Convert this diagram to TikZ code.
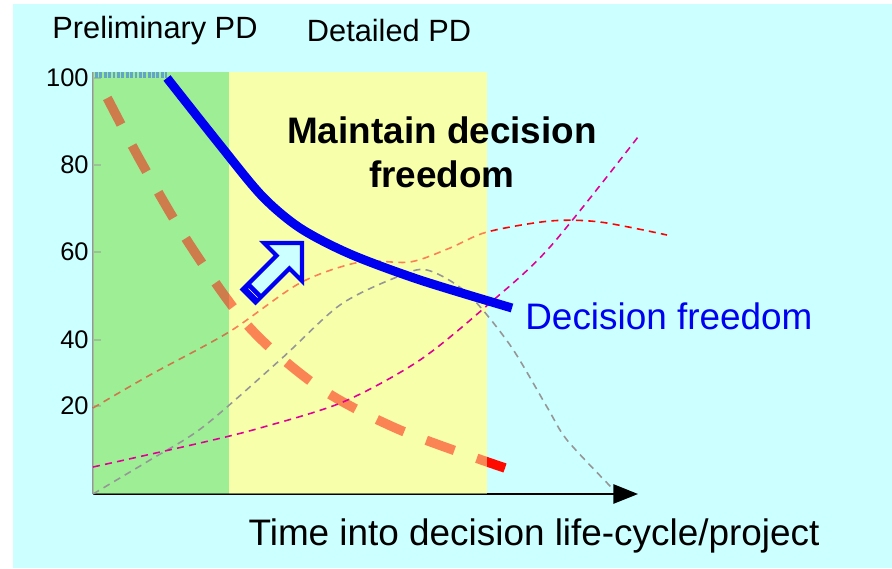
\documentclass[tikz,border=0pt]{standalone}
\usepackage{fontspec}
\setmainfont{Liberation Sans}
\usetikzlibrary{arrows.meta}
\definecolor{bgcyan}{RGB}{204,255,255}
\definecolor{prelgreen}{RGB}{158,238,150}
\definecolor{detyellow}{RGB}{248,255,170}
\definecolor{costred}{RGB}{255,10,0}
\definecolor{thingray}{RGB}{150,150,150}
\definecolor{thinmagenta}{RGB}{225,0,150}
\definecolor{freeblue}{RGB}{0,0,240}
\definecolor{flatblue}{RGB}{40,90,255}

\begin{document}
\begin{tikzpicture}[
    x=0.02cm, y=-0.02cm,
    regionstyle/.style={draw=none},
    thinstyle/.style={line width=0.9pt, dash pattern=on 4pt off 3pt},
    phaselabel/.style={font=\fontsize{17.5}{20}\selectfont, inner sep=0pt},
    ticklabel/.style={font=\fontsize{14.5}{16}\selectfont, anchor=east, inner sep=0pt},
    bigtext/.style={font=\fontsize{21}{25}\selectfont, inner sep=0pt}
]
    \useasboundingbox (0,0) rectangle (892,568);
    \fill[bgcyan] (13,4) rectangle (892,568);

    % project phases
    \fill[prelgreen, regionstyle] (93,72) rectangle (229,494);
    \fill[detyellow, regionstyle] (229,72) rectangle (487,494);

    % axes and ticks
    \coordinate (origin) at (93,494);
    \coordinate (xend) at (638,494);
    \draw[thingray, line width=0.6pt] (origin) -- (93,72);
    \draw[black, line width=0.9pt, -{Triangle[length=14pt,width=11pt]}] (origin) -- (xend);
    \foreach \ty/\tv in {78/100, 165/80, 252/60, 340/40, 406/20} {
        \draw[thingray, line width=0.6pt] (93,\ty) -- (101,\ty);
        \node[ticklabel] (tick\tv) at (89,\ty) {\tv};
    }

    % curves under the phase shading
    \draw[costred, line width=5.4pt, dash pattern=on 17pt off 13.5pt]
        plot[smooth] coordinates {(505,468) (400,430) (320,388) (250,328) (190,245) (140,160) (97,78)};
    \draw[red, thinstyle]
        plot[smooth] coordinates {(93,408) (150,375) (229,332) (300,283) (360,262) (410,262) (450,248) (487,232) (550,221) (600,222) (667,235)};
    \draw[flatblue, line width=3.5pt, dash pattern=on 1.6pt off 0.9pt] (95,75) -- (167,75);

    % phase shading over them
    \fill[prelgreen, regionstyle, fill opacity=0.5] (93,72) rectangle (229,494);
    \fill[detyellow, regionstyle, fill opacity=0.5] (229,72) rectangle (487,494);

    % curves over the phases
    \draw[thingray, thinstyle]
        plot[smooth] coordinates {(93,494) (150,460) (203,427) (280,360) (340,305) (397,277) (427,270) (467,293) (510,345) (547,407) (567,440) (612,488)};
    \draw[thinmagenta, thinstyle]
        plot[smooth] coordinates {(93,467) (200,443) (260,428) (343,402) (420,360) (490,303) (550,247) (638,137)};
    \draw[freeblue, line width=5.1pt]
        plot[smooth] coordinates {(167,78) (220,145) (262,196) (300,228) (350,254) (420,280) (512,308)};

    % block arrow
    \draw[freeblue, line width=2.4pt, fill=bgcyan, line join=miter]
        (302,243) -- (302,281) -- (289.4,268.4) -- (255.4,302.4) -- (242.6,289.6) -- (276.6,255.6) -- (264,243) -- cycle;
    \fill[freeblue] (255.4,302.4) -- (242.6,289.6) -- (249.7,282.5) -- (262.5,295.3) -- cycle;
    \draw[white, line width=0.4pt] (248.5,288.5) -- (257.5,297.5);

    % texts
    \node[phaselabel] (prelim) at (155,31) {Preliminary PD};
    \node[phaselabel] (detail) at (389,31) {Detailed PD};
    \node[bigtext, font=\fontsize{21}{25}\selectfont\bfseries, align=center] (maintain) at (442,152) {Maintain decision\\freedom};
    \node[bigtext, text=freeblue, anchor=west] (freedom) at (525,316) {Decision freedom};
    \node[bigtext] (timeaxis) at (534,536) {Time into decision life-cycle/project};
\end{tikzpicture}
\end{document}
